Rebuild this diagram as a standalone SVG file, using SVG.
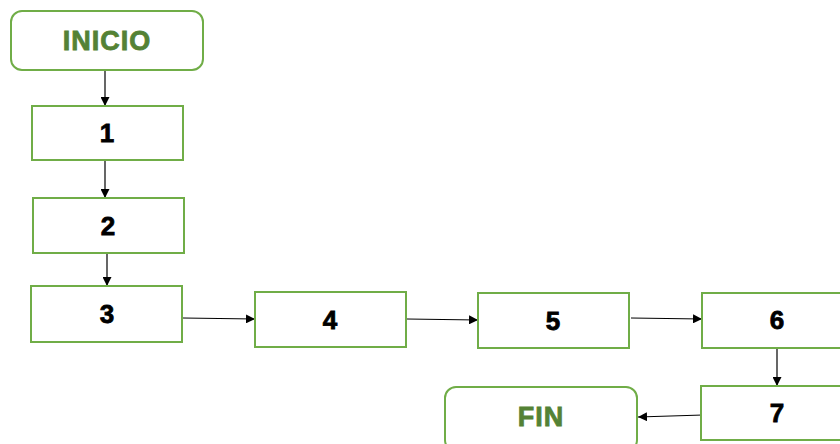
<svg xmlns="http://www.w3.org/2000/svg" width="840" height="444" viewBox="0 0 840 444">
<defs>
<style>
.box{fill:#fff;stroke:#70AD47;stroke-width:2}
.t{font-family:"Liberation Sans",Arial,sans-serif;font-weight:bold;font-size:26px;text-anchor:middle;dominant-baseline:central;fill:#000;stroke:#000;stroke-width:0.8}
.g{fill:#548235;stroke:#548235;font-size:27px;letter-spacing:1px}
.c{stroke:#000;stroke-width:1.2;fill:none;marker-end:url(#ah)}
</style>
<marker id="ah" viewBox="0 0 10 10" refX="10" refY="5" markerWidth="9" markerHeight="9" markerUnits="userSpaceOnUse" orient="auto"><path d="M0,0L10,5L0,10z" fill="#000"/></marker>
</defs>
<rect width="840" height="444" fill="#fff"/>
<g id="connectors">
<line class="c" x1="105" y1="70" x2="105" y2="106"/>
<line class="c" x1="105" y1="160" x2="105" y2="198"/>
<line class="c" x1="107" y1="253" x2="107" y2="286"/>
<line class="c" x1="183" y1="318" x2="255" y2="319"/>
<line class="c" x1="407" y1="319" x2="478" y2="320"/>
<line class="c" x1="631" y1="318" x2="702" y2="319"/>
<line class="c" x1="777" y1="348" x2="777" y2="386"/>
<line class="c" x1="703" y1="415" x2="638" y2="417"/>
</g>
<g id="inicio"><rect class="box" x="11" y="11" width="192" height="59" rx="11"/><text class="t g" x="107" y="41">INICIO</text></g>
<g id="n1"><rect class="box" x="32" y="106" width="151" height="54"/><text class="t" x="107" y="133">1</text></g>
<g id="n2"><rect class="box" x="33" y="198" width="151" height="55"/><text class="t" x="108" y="226">2</text></g>
<g id="n3"><rect class="box" x="31" y="286" width="151" height="56"/><text class="t" x="107" y="314">3</text></g>
<g id="n4"><rect class="box" x="255" y="292" width="151" height="55"/><text class="t" x="330" y="320">4</text></g>
<g id="n5"><rect class="box" x="478" y="293" width="151" height="55"/><text class="t" x="553" y="321">5</text></g>
<g id="n6"><rect class="box" x="702" y="293" width="151" height="55"/><text class="t" x="777" y="320">6</text></g>
<g id="n7"><rect class="box" x="701" y="386" width="151" height="54"/><text class="t" x="777" y="413">7</text></g>
<g id="fin"><rect class="box" x="445" y="387" width="192" height="64" rx="11"/><text class="t g" x="541" y="417">FIN</text></g>
</svg>
